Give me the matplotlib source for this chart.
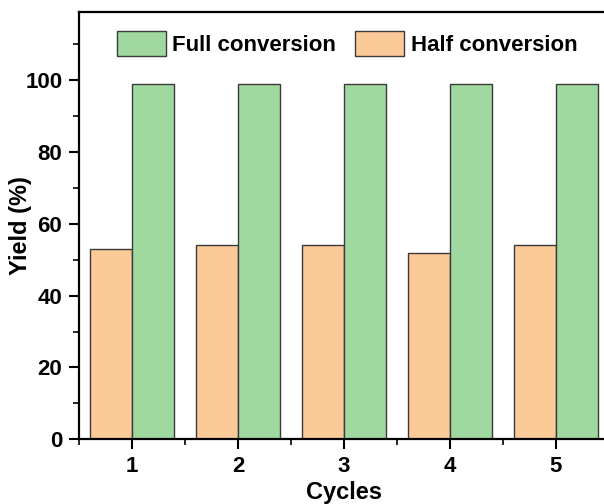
import numpy as np
import matplotlib
matplotlib.use("Agg")
import matplotlib.pyplot as plt
from matplotlib.ticker import MultipleLocator

plt.rcParams['font.family'] = ['Liberation Sans', 'DejaVu Sans']
plt.rcParams['font.weight'] = 'bold'

cycles = [1, 2, 3, 4, 5]
half_yield = [53, 54, 54, 52, 54]
full_yield = [99, 99, 99, 99, 99]

fig = plt.figure(figsize=(6.04, 5.04), dpi=100)
ax = fig.add_axes([0.1308, 0.1284, 0.8775, 0.848])

x = np.array(cycles)
w = 0.4
ax.bar(x - w / 2, half_yield, w, color='#FCC998', edgecolor='#3a3a3a', linewidth=1.0,
       label='Half conversion', zorder=2)
ax.bar(x + w / 2, full_yield, w, color='#A0D99F', edgecolor='#3a3a3a', linewidth=1.0,
       label='Full conversion', zorder=2)

ax.set_xlim(0.5, 5.5)
ax.set_ylim(0, 119)
ax.set_xticks(cycles)
ax.xaxis.set_minor_locator(MultipleLocator(0.5))
ax.yaxis.set_minor_locator(MultipleLocator(10))
ax.set_yticks([0, 20, 40, 60, 80, 100])

ax.tick_params(which='major', direction='out', length=7, width=1.5, labelsize=16, pad=5)
ax.tick_params(which='minor', direction='out', length=4, width=1.2)
for s in ax.spines.values():
    s.set_linewidth(1.6)

ax.set_xlabel('Cycles', fontsize=17, fontweight='bold', labelpad=3)
ax.set_ylabel('Yield (%)', fontsize=17, fontweight='bold')
ax.yaxis.set_label_coords(-0.088, 0.5)

h, l = ax.get_legend_handles_labels()
ax.legend(h[::-1], l[::-1], ncol=2, frameon=False, fontsize=16,
          loc='upper left', bbox_to_anchor=(0.04, 0.995),
          handlelength=2.2, handleheight=1.4, handletextpad=0.3,
          columnspacing=0.85, borderaxespad=0.35)

fig.savefig('out.png', dpi=100)
